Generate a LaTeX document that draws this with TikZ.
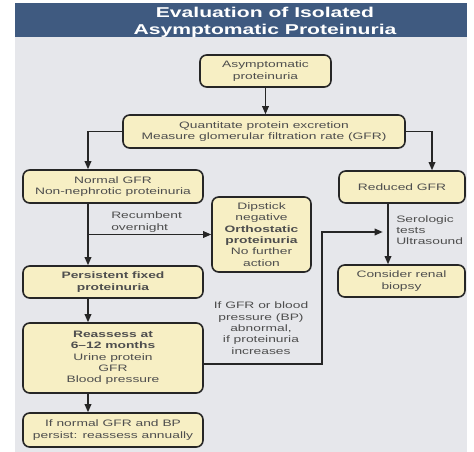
\documentclass[tikz,border=0pt]{standalone}
\usepackage{fontspec}
\setmainfont{Liberation Sans}[FakeStretch=1.48]
\usetikzlibrary{arrows.meta}
\definecolor{hdrblue}{HTML}{3F5A80}
\definecolor{panelgray}{HTML}{E6E7EB}
\definecolor{boxfill}{HTML}{F7EFC4}
\definecolor{txtgray}{HTML}{4E4E4E}
\tikzset{
  flowbox/.style={draw=black!85, line width=1.2pt, fill=boxfill, rounded corners=5pt,
    align=center, inner sep=1pt, text=txtgray, font=\fontsize{7}{8.5}\selectfont},
  flowarr/.style={-{Triangle[length=6pt,width=5pt]}, line width=0.9pt, draw=black!85},
  flowlbl/.style={text=txtgray, inner sep=0.75pt, font=\fontsize{7}{8.5}\selectfont},
}
\begin{document}
\begin{tikzpicture}[x=0.75pt,y=0.75pt,yscale=-1,xscale=1]
\useasboundingbox (0,0) rectangle (474,452);
% header and panel
\fill[hdrblue] (15,3) rectangle (467,37);
\fill[panelgray] (15,37) rectangle (467,452);
\node[text=white, font=\bfseries\fontsize{10.7}{12.4}\selectfont, align=center] (title) at (265,22.5) {Evaluation of Isolated\\Asymptomatic Proteinuria};
% Boxes
\node[flowbox, minimum width=98.25pt, minimum height=24pt] (asym) at (265.5,71) {Asymptomatic\\proteinuria};
\node[flowbox, minimum width=211.5pt, minimum height=24.75pt] (quant) at (264,131.5) {Quantitate protein excretion\\Measure glomerular filtration rate (GFR)};
\node[flowbox, minimum width=135pt, minimum height=24.75pt] (normal) at (113,186.5) {Normal GFR\\Non-nephrotic proteinuria};
\node[flowbox, minimum width=94.5pt, minimum height=24pt] (reduced) at (402,187) {Reduced GFR};
\node[flowbox, minimum width=74.25pt, minimum height=56.25pt] (dip) at (261.5,234.5) {Dipstick\\negative\\\textbf{Orthostatic}\\\textbf{proteinuria}\\No further\\action};
\node[flowbox, minimum width=135pt, minimum height=24pt] (persist) at (113,282) {\textbf{Persistent fixed}\\\textbf{proteinuria}};
\node[flowbox, minimum width=95.25pt, minimum height=24pt] (biopsy) at (401.5,281) {Consider renal\\biopsy};
\node[flowbox, minimum width=135pt, minimum height=52.5pt] (reassess) at (113,358) {\textbf{Reassess at}\\\textbf{6--12 months}\\Urine protein\\GFR\\Blood pressure};
\node[flowbox, minimum width=135pt, minimum height=25.5pt] (annual) at (113,430) {If normal GFR and BP\\persist: reassess annually};
% Text Node
\node[flowlbl, anchor=west, align=left] (recumb) at (110,222) {Recumbent\\overnight};
% Text Node
\node[flowlbl, anchor=north west, align=left] (sero) at (395,214) {Serologic\\tests\\Ultrasound};
% Text Node
\node[flowlbl, align=center] (ifgfr) at (261,328) {If GFR or blood\\pressure (BP)\\abnormal,\\if proteinuria\\increases};
% columns for the connectors
\coordinate (lcol) at (88,0);
\coordinate (rcol) at (432,0);
\coordinate (bcol) at (388,0);
\coordinate (fbtop) at (322,232);
% Connectors
\draw[flowarr] (asym.south) -- (asym.south |- quant.north);
\draw[flowarr] (quant.west) -| (normal.north -| lcol);
\draw[flowarr] (quant.east) -| (reduced.north -| rcol);
\draw[flowarr] (normal.south -| lcol) -- (persist.north -| lcol);
\draw[flowarr] (lcol |- dip.west) -- (dip.west);
\draw[flowarr] (persist.south -| lcol) -- (reassess.north -| lcol);
\draw[flowarr] (reassess.south -| lcol) -- (annual.north -| lcol);
\draw[flowarr] (reduced.south -| bcol) -- (biopsy.north -| bcol);
\draw[flowarr, shorten >=4pt] ([yshift=4.5pt]reassess.east) -| (fbtop) -- (fbtop -| bcol);
\end{tikzpicture}
\end{document}
